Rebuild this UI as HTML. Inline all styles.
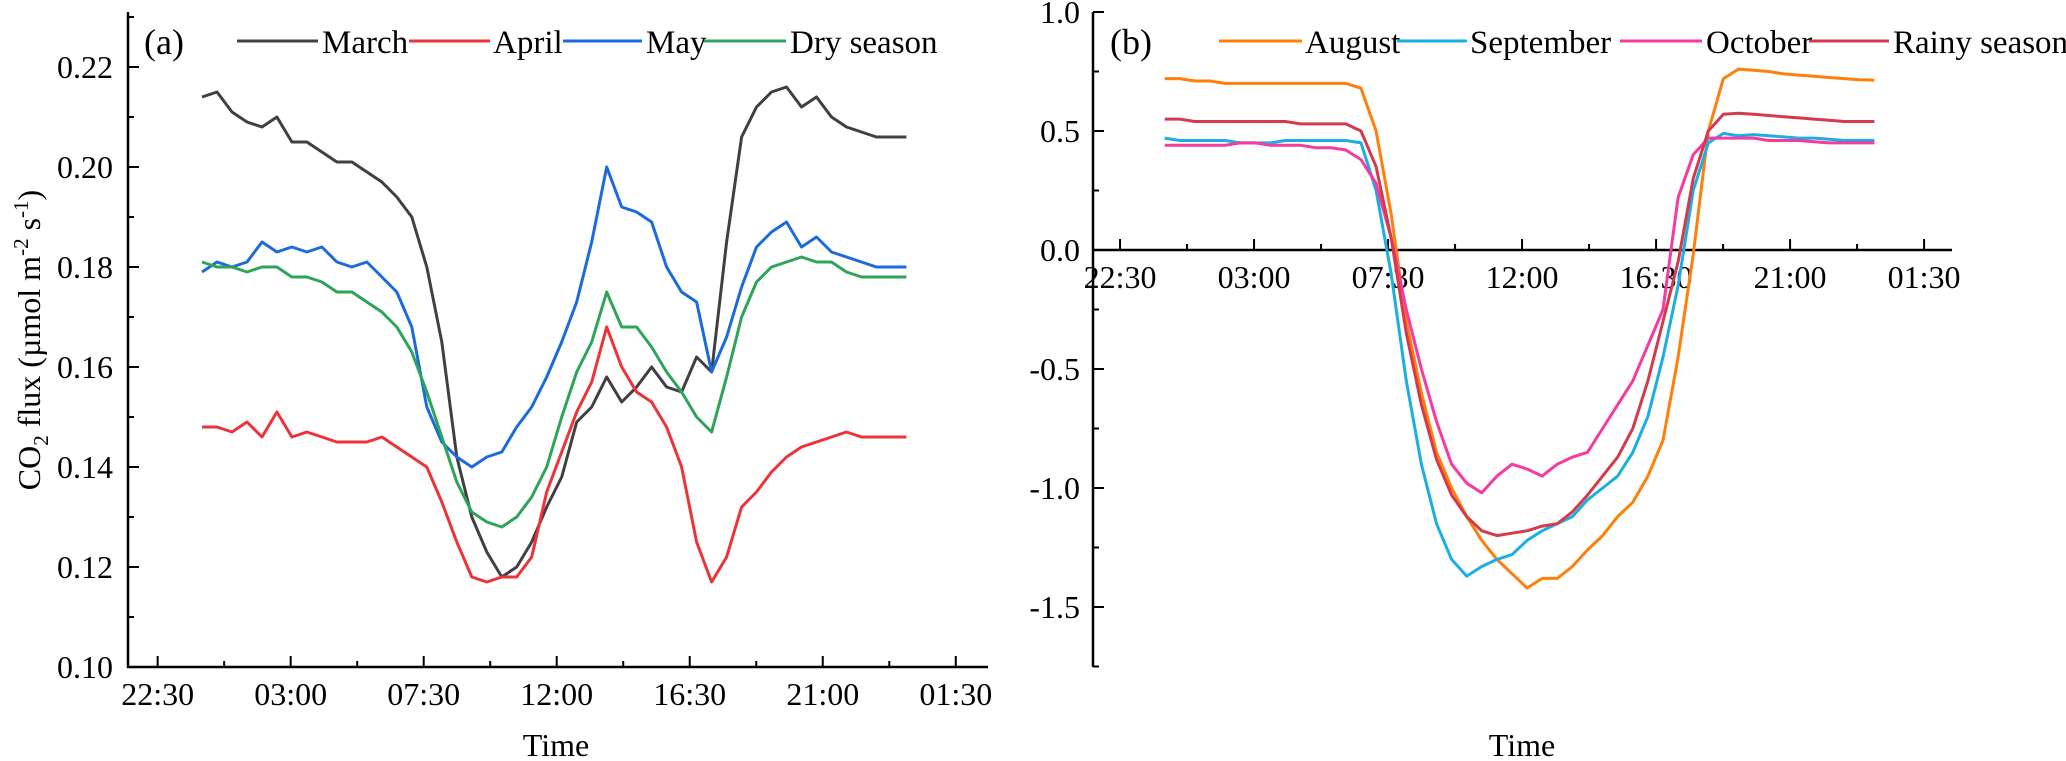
<!DOCTYPE html>
<html><head><meta charset="utf-8"><style>
html,body{margin:0;padding:0;background:#fff;}
svg{display:block;font-family:"Liberation Serif",serif;}
</style></head><body>
<svg id="chart" width="2066" height="761" viewBox="0 0 2066 761">
<g id="pa"></g>
<g id="pb"></g>
</svg>
<script>
// ---------- data ----------
const tickLabels = ["22:30","03:00","07:30","12:00","16:30","21:00","01:30"];
const tickHours = [-1.5,3,7.5,12,16.5,21,25.5];
const aYTicks = [0.10,0.12,0.14,0.16,0.18,0.20,0.22];
const bYTicks = [1.0,0.5,0.0,-0.5,-1.0,-1.5];
const aNames = ["March","April","May","Dry season"];
const bNames = ["August","September","October","Rainy season"];
const march = [0.214,0.215,0.211,0.209,0.208,0.210,0.205,0.205,0.203,0.201,0.201,0.199,0.197,0.194,0.190,0.180,0.165,0.142,0.130,0.123,0.118,0.120,0.125,0.132,0.138,0.149,0.152,0.158,0.153,0.156,0.160,0.156,0.155,0.162,0.159,0.185,0.206,0.212,0.215,0.216,0.212,0.214,0.210,0.208,0.207,0.206,0.206,0.206];
const april = [0.148,0.148,0.147,0.149,0.146,0.151,0.146,0.147,0.146,0.145,0.145,0.145,0.146,0.144,0.142,0.140,0.133,0.125,0.118,0.117,0.118,0.118,0.122,0.135,0.143,0.151,0.157,0.168,0.160,0.155,0.153,0.148,0.140,0.125,0.117,0.122,0.132,0.135,0.139,0.142,0.144,0.145,0.146,0.147,0.146,0.146,0.146,0.146];
const may = [0.179,0.181,0.180,0.181,0.185,0.183,0.184,0.183,0.184,0.181,0.180,0.181,0.178,0.175,0.168,0.152,0.145,0.142,0.140,0.142,0.143,0.148,0.152,0.158,0.165,0.173,0.185,0.200,0.192,0.191,0.189,0.180,0.175,0.173,0.159,0.166,0.176,0.184,0.187,0.189,0.184,0.186,0.183,0.182,0.181,0.180,0.180,0.180];
const drySeason = [0.181,0.180,0.180,0.179,0.180,0.180,0.178,0.178,0.177,0.175,0.175,0.173,0.171,0.168,0.163,0.155,0.146,0.137,0.131,0.129,0.128,0.130,0.134,0.140,0.150,0.159,0.165,0.175,0.168,0.168,0.164,0.159,0.155,0.150,0.147,0.158,0.170,0.177,0.180,0.181,0.182,0.181,0.181,0.179,0.178,0.178,0.178,0.178];
const august = [0.72,0.72,0.71,0.71,0.70,0.70,0.70,0.70,0.70,0.70,0.70,0.70,0.70,0.68,0.50,0.15,-0.30,-0.60,-0.85,-1.00,-1.12,-1.22,-1.30,-1.36,-1.42,-1.38,-1.38,-1.33,-1.26,-1.20,-1.12,-1.06,-0.95,-0.80,-0.45,-0.02,0.50,0.72,0.76,0.755,0.75,0.74,0.735,0.73,0.725,0.72,0.715,0.714];
const september = [0.47,0.46,0.46,0.46,0.46,0.45,0.45,0.45,0.46,0.46,0.46,0.46,0.46,0.45,0.25,-0.10,-0.55,-0.90,-1.15,-1.30,-1.37,-1.33,-1.30,-1.28,-1.22,-1.18,-1.15,-1.12,-1.05,-1.00,-0.95,-0.85,-0.70,-0.45,-0.15,0.25,0.45,0.49,0.48,0.485,0.48,0.475,0.47,0.47,0.465,0.46,0.46,0.46];
const october = [0.44,0.44,0.44,0.44,0.44,0.45,0.45,0.44,0.44,0.44,0.43,0.43,0.42,0.38,0.28,0.05,-0.25,-0.50,-0.72,-0.90,-0.98,-1.02,-0.95,-0.90,-0.92,-0.95,-0.90,-0.87,-0.85,-0.75,-0.65,-0.55,-0.40,-0.25,0.22,0.40,0.47,0.47,0.47,0.47,0.46,0.46,0.46,0.455,0.45,0.45,0.45,0.45];
const rainySeason = [0.55,0.55,0.54,0.54,0.54,0.54,0.54,0.54,0.54,0.53,0.53,0.53,0.53,0.50,0.35,0.05,-0.35,-0.65,-0.88,-1.03,-1.12,-1.18,-1.20,-1.19,-1.18,-1.16,-1.15,-1.10,-1.03,-0.95,-0.87,-0.75,-0.55,-0.30,-0.05,0.30,0.50,0.57,0.575,0.57,0.565,0.56,0.555,0.55,0.545,0.54,0.54,0.54];
const aColors = ["#404040","#ee3338","#1c6bdc","#2ea35a"];
const bColors = ["#ff7f0a","#1aaee5","#f53aa0","#d43a4e"];

const NS = "http://www.w3.org/2000/svg";
function mk(parent, tag, attrs, text){
  const e = document.createElementNS(NS, tag);
  for (const k in attrs) e.setAttribute(k, attrs[k]);
  if (text !== undefined) e.textContent = text;
  parent.appendChild(e);
  return e;
}
const nPts = march.length;
function hourAt(i){ return i * 23.83 / (nPts - 1); }

// ---------- panel a ----------
const pa = document.getElementById('pa');
const aX = h => 202 + h * 29.56;
const aY = v => 667 - (v - 0.10) * 5000;
let el;
el = mk(pa,'line',{x1:128,y1:12,x2:128,y2:668,stroke:'#000','stroke-width':2.5});
 
el = mk(pa,'line',{x1:127,y1:667,x2:988,y2:667,stroke:'#000','stroke-width':2.5});
 
for (let v = 0.10; v <= 0.2301; v += 0.01) {
  const major = Math.round(v*100) % 2 === 0;
  mk(pa,'line',{x1:128,y1:aY(v),x2:128+(major?11:6),y2:aY(v),stroke:'#000','stroke-width':2});
}
aYTicks.forEach(v=>{
  el = mk(pa,'text',{x:113,y:aY(v)+11,'text-anchor':'end','font-size':32},v.toFixed(2));
   
});
for (let h = -1.5; h <= 25.6; h += 2.25) {
  const major = Math.abs(((h + 1.5) / 4.5) - Math.round((h + 1.5) / 4.5)) < 0.01;
  mk(pa,'line',{x1:aX(h),y1:667,x2:aX(h),y2:667-(major?11:6),stroke:'#000','stroke-width':2});
}
tickLabels.forEach((t,k)=>{
  el = mk(pa,'text',{x:aX(tickHours[k]),y:705,'text-anchor':'middle','font-size':32},t);
   
});
el = mk(pa,'text',{x:556,y:756,'text-anchor':'middle','font-size':32},'Time');
 
el = mk(pa,'text',{transform:'translate(40,340) rotate(-90)','text-anchor':'middle','font-size':32});
 
el.innerHTML = 'CO<tspan font-size="21" dy="8">2</tspan><tspan dy="-8"> flux (µmol m</tspan><tspan font-size="21" dy="-12">-2</tspan><tspan dy="12"> s</tspan><tspan font-size="21" dy="-12">-1</tspan><tspan dy="12">)</tspan>';
const aSeries = [march, april, may, drySeason];
aSeries.forEach((s,k)=>{
  const d = s.map((v,i)=>(i?'L':'M')+aX(hourAt(i)).toFixed(1)+','+aY(v).toFixed(1)).join('');
  el = mk(pa,'path',{d:d,fill:'none',stroke:aColors[k],'stroke-width':3,'stroke-linejoin':'round'});
  
  
});
el = mk(pa,'text',{x:144,y:54,'font-size':36},'(a)');
 
const aLeg = [[237,318,322],[409,490,493],[563,642,646],[704,786,790]];
aLeg.forEach((p,k)=>{
  const g = mk(pa,'g',{});
  
  
  mk(g,'line',{x1:p[0],y1:41,x2:p[1],y2:41,stroke:aColors[k],'stroke-width':3});
  mk(g,'text',{x:p[2],y:53,'font-size':33},aNames[k]);
});

// ---------- panel b ----------
const pb = document.getElementById('pb');
const bX = h => 1164.7 + h * 29.78;
const bY = v => 250 - v * 238;
el = mk(pb,'line',{x1:1093,y1:12,x2:1093,y2:667,stroke:'#000','stroke-width':2.5});
 
el = mk(pb,'line',{x1:1092,y1:250,x2:1952,y2:250,stroke:'#000','stroke-width':2.5});
 
for (let v = 1.0; v >= -1.76; v -= 0.25) {
  const major = Math.abs(v*2 - Math.round(v*2)) < 0.01;
  mk(pb,'line',{x1:1093,y1:bY(v),x2:1093+(major?11:6),y2:bY(v),stroke:'#000','stroke-width':2});
}
bYTicks.forEach(v=>{
  el = mk(pb,'text',{x:1080,y:bY(v)+11,'text-anchor':'end','font-size':32},v.toFixed(1));
   
});
for (let h = -1.5; h <= 25.6; h += 2.25) {
  const major = Math.abs(((h + 1.5) / 4.5) - Math.round((h + 1.5) / 4.5)) < 0.01;
  mk(pb,'line',{x1:bX(h),y1:250,x2:bX(h),y2:250-(major?11:6),stroke:'#000','stroke-width':2});
}
tickLabels.forEach((t,k)=>{
  el = mk(pb,'text',{x:bX(tickHours[k]),y:288,'text-anchor':'middle','font-size':32},t);
   
});
el = mk(pb,'text',{x:1522,y:756,'text-anchor':'middle','font-size':32},'Time');
 
const bSeries = [august, september, october, rainySeason];
bSeries.forEach((s,k)=>{
  const d = s.map((v,i)=>(i?'L':'M')+bX(hourAt(i)).toFixed(1)+','+bY(v).toFixed(1)).join('');
  el = mk(pb,'path',{d:d,fill:'none',stroke:bColors[k],'stroke-width':3,'stroke-linejoin':'round'});
  
  
});
el = mk(pb,'text',{x:1110,y:54,'font-size':36},'(b)');
 
const bLeg = [[1219,1302,1305],[1397,1467,1470],[1620,1702,1706],[1809,1889,1893]];
bLeg.forEach((p,k)=>{
  const g = mk(pb,'g',{});
  
  
  mk(g,'line',{x1:p[0],y1:41,x2:p[1],y2:41,stroke:bColors[k],'stroke-width':3});
  mk(g,'text',{x:p[2],y:53,'font-size':33},bNames[k]);
});
</script>
</body></html>
